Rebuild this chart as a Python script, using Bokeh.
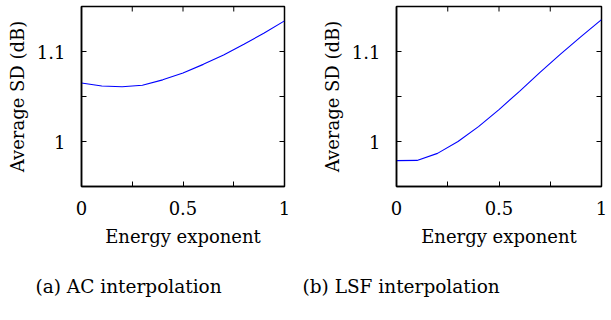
import math
from bokeh.plotting import figure
from bokeh.models import Range1d, FixedTicker, Title
from bokeh.layouts import row
from bokeh.embed import file_html
from bokeh.resources import INLINE

exponent = [0.0, 0.1, 0.2, 0.3, 0.4, 0.5, 0.6, 0.7, 0.8, 0.9, 1.0]
sd_ac = [1.065, 1.0617, 1.0608, 1.0625, 1.0685, 1.076, 1.0857, 1.096, 1.108, 1.1206, 1.134]
sd_lsf = [0.9787, 0.979, 0.9868, 1.0, 1.0165, 1.0355, 1.0557, 1.0769, 1.097, 1.1165, 1.1355]
x_major = [0, 0.5, 1]
x_minor = [0.25, 0.75]
y_major = [1.0, 1.1]
y_minor = [0.95, 1.05, 1.15]
captions = ["(a) AC interpolation", "(b) LSF interpolation"]

FONT = "DejaVu Serif"
X0, X1, Y0, Y1 = 0.0, 1.0, 0.95, 1.15


def style_axis(ax, major, minor):
    ax.ticker = FixedTicker(ticks=major, minor_ticks=minor)
    ax.major_tick_in = 5
    ax.major_tick_out = 0
    ax.minor_tick_in = 5
    ax.minor_tick_out = 0
    ax.major_tick_line_color = "black"
    ax.minor_tick_line_color = "black"
    ax.axis_line_color = "black"
    ax.axis_line_width = 1.5
    ax.major_label_text_font = FONT
    ax.major_label_text_font_size = "18px"
    ax.major_label_text_color = "black"
    ax.axis_label_text_font = FONT
    ax.axis_label_text_font_size = "18px"
    ax.axis_label_text_font_style = "normal"
    ax.axis_label_text_color = "black"


def make(ys, width, border_left, frame_w, caption, cap_offset):
    p = figure(width=width, height=320, output_backend="svg", toolbar_location=None,
               x_range=Range1d(X0, X1), y_range=Range1d(Y0, Y1),
               min_border_left=border_left, min_border_right=width - border_left - frame_w,
               min_border_top=6, min_border_bottom=132)
    p.line(exponent, ys, line_color="#0000ff", line_width=1.1)
    p.grid.visible = False
    p.outline_line_color = "black"
    p.outline_line_width = 1.5
    p.xaxis.axis_label = "Energy exponent"
    p.yaxis.axis_label = "Average SD (dB)"
    style_axis(p.xaxis[0], x_major, x_minor)
    style_axis(p.yaxis[0], y_major, y_minor)
    p.xaxis.major_label_standoff = 14
    p.xaxis.axis_label_standoff = 8
    p.yaxis.major_label_standoff = 16
    p.yaxis.axis_label_standoff = 6
    yt = y_major + y_minor
    xt = x_major + x_minor
    p.scatter([X1] * len(yt), yt, marker="dash", size=10, line_color="black",
              line_width=1, angle=0)
    p.scatter(xt, [Y1] * len(xt), marker="dash", size=10, line_color="black",
              line_width=1, angle=math.pi / 2)
    t = Title(text=caption, align="left", offset=cap_offset, standoff=48,
              text_font=FONT, text_font_size="18.5px", text_font_style="normal",
              text_color="black")
    p.add_layout(t, "below")
    return p


p1 = make(sd_ac, 300, 81, 203, captions[0], -46)
p2 = make(sd_lsf, 311, 96, 205, captions[1], -94)

layout = row(p1, p2)
open("out.html", "w").write(file_html(layout, INLINE))
